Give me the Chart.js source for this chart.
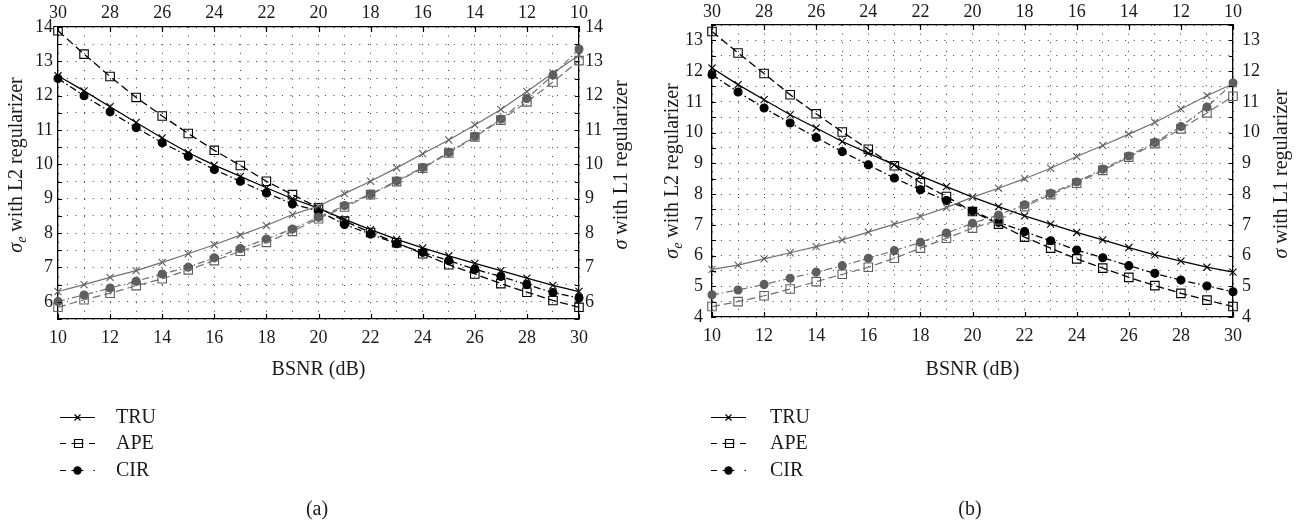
<!DOCTYPE html>
<html>
<head>
<meta charset="utf-8">
<script src="https://cdn.jsdelivr.net/npm/chart.js@4.4.0/dist/chart.umd.min.js"></script>
<style>
html, body { margin: 0; padding: 0; background: #ffffff; }
#wrap { position: relative; width: 1309px; height: 527px; overflow: hidden; background: #fff; }
canvas { position: absolute; top: 0; }
</style>
</head>
<body>
<div id="wrap">
  <canvas id="chartA" width="645" height="527" style="left:0px"></canvas>
  <canvas id="chartB" width="659" height="527" style="left:650px"></canvas>
</div>
<script>
// ---------------- data ----------------
const seriesNames = ['TRU', 'APE', 'CIR'];
// bottom axis (BSNR, dB) - used by the L2 (black) series
const bsnrBottom = [10, 11, 12, 13, 14, 15, 16, 17, 18, 19, 20, 21, 22, 23, 24, 25, 26, 27, 28, 29, 30];
// top axis (reversed BSNR, dB) - used by the L1 (grey) series
const bsnrTop = [30, 29, 28, 27, 26, 25, 24, 23, 22, 21, 20, 19, 18, 17, 16, 15, 14, 13, 12, 11, 10];

// tick labels
const xTickLabels = [10, 12, 14, 16, 18, 20, 22, 24, 26, 28, 30];
const yTickLabelsA = [6, 7, 8, 9, 10, 11, 12, 13, 14];
const yTickLabelsB = [4, 5, 6, 7, 8, 9, 10, 11, 12, 13];

// panel (a): sigma_e with L2 regularizer (black, bottom axis)
const aL2_TRU = [12.58, 12.14, 11.68, 11.22, 10.77, 10.34, 9.98, 9.65, 9.32, 9.00, 8.73, 8.40, 8.10, 7.82, 7.57, 7.34, 7.12, 6.91, 6.69, 6.48, 6.30];
const aL2_APE = [13.89, 13.21, 12.56, 11.95, 11.41, 10.90, 10.41, 9.97, 9.51, 9.12, 8.74, 8.35, 8.02, 7.72, 7.40, 7.08, 6.81, 6.53, 6.28, 6.04, 5.84];
const aL2_CIR = [12.50, 12.00, 11.53, 11.07, 10.63, 10.24, 9.85, 9.51, 9.17, 8.85, 8.64, 8.25, 7.97, 7.69, 7.44, 7.20, 6.95, 6.74, 6.50, 6.27, 6.11];
// panel (a): sigma with L1 regularizer (grey, top axis)
const aL1_TRU = [6.30, 6.50, 6.71, 6.91, 7.15, 7.40, 7.66, 7.94, 8.22, 8.54, 8.79, 9.15, 9.51, 9.90, 10.31, 10.71, 11.15, 11.60, 12.12, 12.66, 13.18];
const aL1_APE = [5.84, 6.06, 6.25, 6.47, 6.67, 6.93, 7.20, 7.47, 7.73, 8.05, 8.42, 8.76, 9.12, 9.50, 9.89, 10.33, 10.80, 11.29, 11.82, 12.40, 13.02];
const aL1_CIR = [6.01, 6.20, 6.40, 6.60, 6.81, 7.01, 7.28, 7.55, 7.83, 8.12, 8.46, 8.80, 9.14, 9.52, 9.91, 10.35, 10.82, 11.32, 11.92, 12.60, 13.36];

// panel (b): sigma_e with L2 regularizer (black, bottom axis)
const bL2_TRU = [12.10, 11.56, 11.07, 10.58, 10.15, 9.71, 9.33, 8.95, 8.59, 8.24, 7.90, 7.59, 7.29, 7.02, 6.75, 6.51, 6.26, 6.02, 5.82, 5.62, 5.46];
const bL2_APE = [13.29, 12.59, 11.92, 11.23, 10.61, 10.02, 9.46, 8.92, 8.37, 7.92, 7.43, 7.02, 6.60, 6.24, 5.89, 5.59, 5.29, 5.02, 4.77, 4.55, 4.34];
const bL2_CIR = [11.88, 11.32, 10.80, 10.31, 9.84, 9.38, 8.95, 8.52, 8.14, 7.79, 7.45, 7.08, 6.78, 6.48, 6.18, 5.93, 5.67, 5.42, 5.20, 5.01, 4.82];
// panel (b): sigma with L1 regularizer (grey, top axis)
const bL1_TRU = [5.55, 5.69, 5.89, 6.09, 6.29, 6.51, 6.76, 7.02, 7.27, 7.56, 7.90, 8.19, 8.50, 8.84, 9.22, 9.58, 9.95, 10.33, 10.77, 11.20, 11.59];
const bL1_APE = [4.34, 4.50, 4.69, 4.91, 5.15, 5.39, 5.62, 5.91, 6.24, 6.56, 6.89, 7.16, 7.59, 7.98, 8.35, 8.77, 9.20, 9.64, 10.12, 10.64, 11.18];
const bL1_CIR = [4.72, 4.88, 5.06, 5.26, 5.46, 5.67, 5.91, 6.16, 6.43, 6.73, 7.05, 7.32, 7.65, 8.02, 8.39, 8.81, 9.24, 9.68, 10.20, 10.83, 11.61];

// ---------------- styles ----------------
const FONT = '"Liberation Serif", "DejaVu Serif", "Times New Roman", serif';
const BLACK = '#000000';
const GREY_LINE = '#707070';
const GREY_MARK = '#5e5e5e';
const TEXT = '#1a1a1a';

const styleOf = {
  TRU: { dash: [], pointStyle: 'crossRot', radius: 5, filled: false },
  APE: { dash: [8, 4], pointStyle: 'rect', radius: 6, filled: false },
  CIR: { dash: [7, 3, 1.5, 3], pointStyle: 'circle', radius: 4, filled: true }
};

function pts(xs, ys) { return xs.map((x, i) => ({ x: x, y: ys[i] })); }

function makeDataset(name, xs, ys, grey) {
  const st = styleOf[name];
  const lineCol = grey ? GREY_LINE : BLACK;
  const markCol = grey ? GREY_MARK : BLACK;
  return {
    label: name + (grey ? ' (L1)' : ' (L2)'),
    data: pts(xs, ys),
    xAxisID: grey ? 'x2' : 'x',
    yAxisID: grey ? 'y2' : 'y',
    borderColor: lineCol,
    borderWidth: grey ? 1.2 : 1.3,
    borderDash: st.dash,
    pointStyle: st.pointStyle,
    pointRadius: st.radius,
    pointBorderColor: markCol,
    pointBorderWidth: 1.1,
    pointBackgroundColor: st.filled ? markCol : 'rgba(0,0,0,0)',
    tension: 0,
    fill: false,
    clip: false
  };
}

// ---------------- plugins ----------------
const inwardTicks = {
  id: 'inwardTicks',
  afterDraw(chart) {
    const { ctx, chartArea: ca, scales } = chart;
    ctx.save();
    ctx.strokeStyle = BLACK;
    ctx.lineWidth = 1.2;
    ctx.setLineDash([]);
    ctx.beginPath();
    scales.x.ticks.forEach(t => {
      if (!xTickLabels.includes(t.value)) return;
      const px = Math.round(scales.x.getPixelForValue(t.value)) + 0.5;
      ctx.moveTo(px, ca.bottom); ctx.lineTo(px, ca.bottom - 5);
    });
    scales.x2.ticks.forEach(t => {
      if (!xTickLabels.includes(t.value)) return;
      const px = Math.round(scales.x2.getPixelForValue(t.value)) + 0.5;
      ctx.moveTo(px, ca.top); ctx.lineTo(px, ca.top + 5);
    });
    scales.y.ticks.forEach(t => {
      const py = Math.round(scales.y.getPixelForValue(t.value)) + 0.5;
      ctx.moveTo(ca.left, py); ctx.lineTo(ca.left + 4, py);
    });
    scales.y2.ticks.forEach(t => {
      const py = Math.round(scales.y2.getPixelForValue(t.value)) + 0.5;
      ctx.moveTo(ca.right, py); ctx.lineTo(ca.right - 4, py);
    });
    ctx.stroke();
    ctx.restore();
  }
};

function drawRotatedTitle(ctx, cx, cy, parts) {
  // parts: [{text, font, dy}]
  ctx.save();
  ctx.translate(cx, cy);
  ctx.rotate(-Math.PI / 2);
  ctx.fillStyle = TEXT;
  ctx.textBaseline = 'middle';
  ctx.textAlign = 'left';
  let total = 0;
  parts.forEach(p => { ctx.font = p.font; total += ctx.measureText(p.text).width; });
  let x = -total / 2;
  parts.forEach(p => {
    ctx.font = p.font;
    ctx.fillText(p.text, x, p.dy || 0);
    x += ctx.measureText(p.text).width;
  });
  ctx.restore();
}

function titlesAndLegend(cfg) {
  return {
    id: 'titlesAndLegend',
    afterDraw(chart) {
      const ctx = chart.ctx;
      const big = '20px ' + FONT;
      const it = 'italic 20px ' + FONT;
      const sub = 'italic 14px ' + FONT;
      // y-axis titles
      drawRotatedTitle(ctx, cfg.leftTitleX, cfg.leftTitleY, [
        { text: 'σ', font: it },
        { text: 'e', font: sub, dy: 5 },
        { text: ' with L2 regularizer', font: big }
      ]);
      drawRotatedTitle(ctx, cfg.rightTitleX, cfg.rightTitleY, [
        { text: 'σ', font: it },
        { text: ' with L1 regularizer', font: big }
      ]);
      // legend
      const x0 = cfg.legendX, x1 = cfg.legendX + 35, xm = cfg.legendX + 17.5;
      ctx.save();
      ctx.strokeStyle = BLACK;
      ctx.fillStyle = BLACK;
      ctx.lineWidth = 1.2;
      seriesNames.forEach((name, k) => {
        const y = Math.round(cfg.legendY[k]) + 0.5;
        ctx.setLineDash([]);
        ctx.beginPath();
        if (name === 'TRU') {
          ctx.moveTo(x0, y); ctx.lineTo(x1, y);
          ctx.moveTo(xm - 3, y - 3); ctx.lineTo(xm + 3, y + 3);
          ctx.moveTo(xm - 3, y + 3); ctx.lineTo(xm + 3, y - 3);
          ctx.stroke();
        } else if (name === 'APE') {
          ctx.moveTo(x0, y); ctx.lineTo(x0 + 6, y);
          ctx.moveTo(xm - 6, y); ctx.lineTo(xm + 6, y);
          ctx.moveTo(x1 - 6, y); ctx.lineTo(x1, y);
          ctx.stroke();
          ctx.beginPath();
          ctx.rect(Math.round(xm - 4) + 0.5, y - 4, 8, 8);
          ctx.stroke();
        } else {
          ctx.moveTo(x0, y); ctx.lineTo(x0 + 6, y);
          ctx.moveTo(xm - 6, y); ctx.lineTo(xm + 6, y);
          ctx.moveTo(x1 - 1.5, y); ctx.lineTo(x1, y);
          ctx.stroke();
          ctx.beginPath();
          ctx.arc(xm, y, 4.2, 0, Math.PI * 2);
          ctx.fill();
        }
        ctx.font = big;
        ctx.textBaseline = 'middle';
        ctx.textAlign = 'left';
        ctx.fillStyle = TEXT;
        ctx.fillText(name, cfg.legendTextX, cfg.legendY[k] + 1);
        ctx.fillStyle = BLACK;
      });
      // caption
      ctx.font = big;
      ctx.textAlign = 'center';
      ctx.textBaseline = 'middle';
      ctx.fillStyle = TEXT;
      ctx.fillText(cfg.caption, cfg.captionX, cfg.captionY);
      ctx.restore();
    }
  };
}

// ---------------- chart builder ----------------
function buildChart(canvasId, cfg) {
  const H = 527;
  const tickFont = { family: FONT, size: 18 };
  const gridCol = '#3c3c3c';
  const dotDash = [1, 7.6];
  const yLabels = cfg.yLabels;
  return new Chart(document.getElementById(canvasId), {
    type: 'line',
    data: {
      datasets: [
        makeDataset('TRU', bsnrTop, cfg.L1[0], true),
        makeDataset('APE', bsnrTop, cfg.L1[1], true),
        makeDataset('CIR', bsnrTop, cfg.L1[2], true),
        makeDataset('TRU', bsnrBottom, cfg.L2[0], false),
        makeDataset('APE', bsnrBottom, cfg.L2[1], false),
        makeDataset('CIR', bsnrBottom, cfg.L2[2], false)
      ]
    },
    options: {
      responsive: false,
      animation: false,
      devicePixelRatio: 1,
      layout: { padding: 0 },
      plugins: { legend: { display: false }, tooltip: { enabled: false } },
      scales: {
        x: {
          type: 'linear', position: 'bottom', min: 10, max: 30,
          afterFit: s => { s.height = H - cfg.bottom; },
          ticks: {
            stepSize: 1, autoSkip: false, maxRotation: 0, padding: 8, color: TEXT, font: tickFont,
            callback: v => xTickLabels.includes(v) ? String(v) : ''
          },
          grid: { color: gridCol, lineWidth: 1, drawTicks: false },
          border: { color: BLACK, width: 1.3, dash: dotDash },
          title: {
            display: true, text: 'BSNR (dB)', color: TEXT,
            font: { family: FONT, size: 20 }, padding: { top: 0, bottom: 145 }
          }
        },
        x2: {
          type: 'linear', position: 'top', reverse: true, min: 10, max: 30,
          afterFit: s => { s.height = cfg.top; },
          ticks: {
            stepSize: 1, autoSkip: false, maxRotation: 0, padding: cfg.topPad, color: TEXT, font: tickFont,
            callback: v => xTickLabels.includes(v) ? String(v) : ''
          },
          grid: { display: false, drawTicks: false },
          border: { color: BLACK, width: 1.3 }
        },
        y: {
          type: 'linear', position: 'left', min: cfg.yMin, max: cfg.yMax,
          afterFit: s => { s.width = cfg.left; },
          ticks: {
            stepSize: 0.5, autoSkip: false, padding: cfg.leftPad, color: TEXT, font: tickFont,
            callback: v => yLabels.includes(v) ? String(v) : ''
          },
          grid: { color: gridCol, lineWidth: 1, drawTicks: false },
          border: { color: BLACK, width: 1.3, dash: dotDash }
        },
        y2: {
          type: 'linear', position: 'right', min: cfg.yMin, max: cfg.yMax,
          afterFit: s => { s.width = cfg.width - cfg.right; },
          ticks: {
            stepSize: 0.5, autoSkip: false, padding: cfg.rightPad, color: TEXT, font: tickFont,
            callback: v => yLabels.includes(v) ? String(v) : ''
          },
          grid: { display: false, drawTicks: false },
          border: { color: BLACK, width: 1.3 }
        }
      }
    },
    plugins: [inwardTicks, titlesAndLegend(cfg)]
  });
}

buildChart('chartA', {
  width: 645, left: 58, right: 579, top: 27, bottom: 319,
  topPad: 3, leftPad: 5, rightPad: 6,
  yMin: 5.5, yMax: 14, yLabels: yTickLabelsA,
  L2: [aL2_TRU, aL2_APE, aL2_CIR],
  L1: [aL1_TRU, aL1_APE, aL1_CIR],
  leftTitleX: 17, leftTitleY: 165, rightTitleX: 622, rightTitleY: 165,
  legendX: 60, legendTextX: 116, legendY: [417, 443, 470],
  caption: '(a)', captionX: 317, captionY: 510
});

buildChart('chartB', {
  width: 659, left: 62, right: 583, top: 25, bottom: 317,
  topPad: 2, leftPad: 9, rightPad: 9,
  yMin: 4, yMax: 13.5, yLabels: yTickLabelsB,
  L2: [bL2_TRU, bL2_APE, bL2_CIR],
  L1: [bL1_TRU, bL1_APE, bL1_CIR],
  leftTitleX: 23, leftTitleY: 171, rightTitleX: 632, rightTitleY: 174,
  legendX: 61, legendTextX: 120, legendY: [417, 443, 470],
  caption: '(b)', captionX: 320, captionY: 510
});
</script>
</body>
</html>
